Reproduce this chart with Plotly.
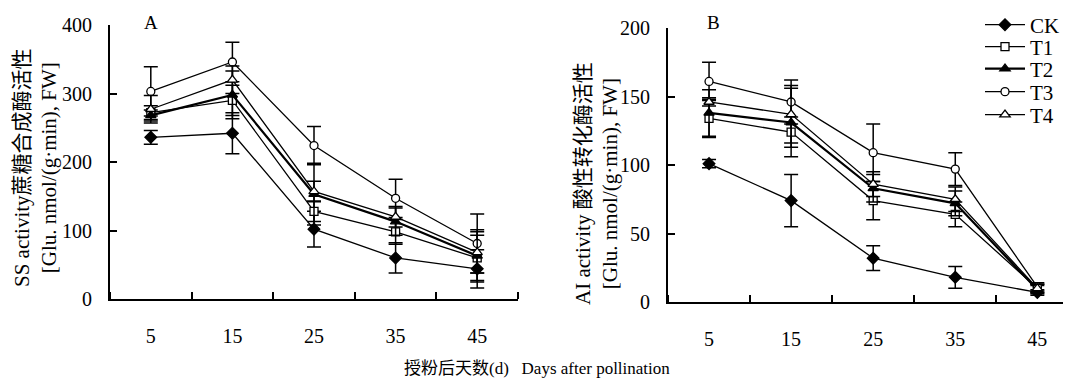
import plotly.graph_objects as go

days = ["5", "15", "25", "35", "45"]
series = ["CK", "T1", "T2", "T3", "T4"]

# Panel A: SS activity
ss_ck = [236, 242, 102, 60, 44]
ss_ck_err = [10, 30, 26, 22, 28]
ss_t1 = [272, 290, 128, 98, 60]
ss_t1_err = [10, 22, 15, 18, 33]
ss_t2 = [268, 298, 153, 113, 63]
ss_t2_err = [8, 35, 45, 20, 38]
ss_t3 = [303, 346, 224, 147, 81]
ss_t3_err = [36, 29, 28, 28, 43]
ss_t4 = [277, 320, 157, 120, 68]
ss_t4_err = [20, 20, 15, 15, 30]

# Panel B: AI activity
ai_ck = [101, 74, 32, 18, 7]
ai_ck_err = [3, 19, 9, 8, 2]
ai_t1 = [134, 124, 74, 64, 10]
ai_t1_err = [14, 11, 14, 9, 3]
ai_t2 = [138, 131, 83, 72, 9]
ai_t2_err = [17, 25, 10, 9, 3]
ai_t3 = [161, 146, 109, 97, 11]
ai_t3_err = [14, 16, 21, 12, 3]
ai_t4 = [146, 137, 86, 75, 10]
ai_t4_err = [3, 21, 9, 9, 3]

# The page body has an 8px margin, so the figure is made 8px smaller
OFF = 8
W, H = 1071 - OFF, 384 - OFF
TOP_PX, BOT_PX = 25, 302          # screen pixel rows of plot area
MT = TOP_PX - OFF
MB = H - (BOT_PX - OFF)
PH = H - MT - MB


def px(x):
    return (x - OFF) / W


def py(y):
    return ((BOT_PX - OFF) - (y - OFF)) / PH


FONT = "Liberation Serif, Times New Roman, Noto Sans CJK SC, serif"

styles = {
    "CK": dict(symbol="diamond", color="black", size=9, lw=1.3),
    "T1": dict(symbol="square", color="white", size=8, lw=1.3),
    "T2": dict(symbol="triangle-up", color="black", size=9, lw=2.2),
    "T3": dict(symbol="circle", color="white", size=8, lw=1.3),
    "T4": dict(symbol="triangle-up", color="white", size=9, lw=1.3),
}
legend_ids = ["legend", "legend2", "legend3", "legend4", "legend5"]
legend_rows = [25, 47, 69, 92, 115]   # screen rows of legend entries

xs = list(range(len(days)))
panel_a = [(ss_ck, ss_ck_err), (ss_t1, ss_t1_err), (ss_t2, ss_t2_err),
           (ss_t3, ss_t3_err), (ss_t4, ss_t4_err)]
panel_b = [(ai_ck, ai_ck_err), (ai_t1, ai_t1_err), (ai_t2, ai_t2_err),
           (ai_t3, ai_t3_err), (ai_t4, ai_t4_err)]

fig = go.Figure()
for panel, (xa, ya, show) in zip([panel_a, panel_b], [("x", "y", False), ("x2", "y2", True)]):
    for i, (name, (vals, errs)) in enumerate(zip(series, panel)):
        st = styles[name]
        fig.add_trace(go.Scatter(
            x=xs, y=vals, name=name, xaxis=xa, yaxis=ya,
            mode="lines+markers", showlegend=show, legend=legend_ids[i],
            line=dict(color="black", width=st["lw"]),
            marker=dict(symbol=st["symbol"], size=st["size"], color=st["color"],
                        line=dict(color="black", width=1.3)),
            error_y=dict(type="data", array=errs, visible=True, color="black",
                         thickness=1.5, width=7),
        ))

common_x = dict(
    tickvals=xs, ticktext=days, ticks="", showline=True, linecolor="black",
    linewidth=2, showgrid=False, zeroline=False, ticklabelstandoff=18,
    tickfont=dict(family=FONT, size=20, color="black"),
    minor=dict(tick0=-0.5, dtick=1, ticks="inside", ticklen=7,
               tickcolor="black", tickwidth=1.5, showgrid=False),
)
common_y = dict(
    ticks="inside", ticklen=7, tickwidth=1.5, tickcolor="black",
    showline=True, linecolor="black", linewidth=2, showgrid=False,
    zeroline=False, ticklabelstandoff=12,
    tickfont=dict(family=FONT, size=20, color="black"),
)

layout = dict(
    width=W, height=H,
    margin=dict(l=0, r=0, t=MT, b=MB, autoexpand=False),
    paper_bgcolor="white", plot_bgcolor="white",
    xaxis=dict(domain=[px(110), px(518)], range=[-0.5, 4.5], anchor="y", **common_x),
    yaxis=dict(domain=[py(299), 1], range=[0, 400], dtick=100, anchor="x", **common_y),
    xaxis2=dict(domain=[px(668), 1], range=[-0.5, 4.41], anchor="y2", **common_x),
    yaxis2=dict(domain=[0, py(28)], range=[0, 200], dtick=50, anchor="x2", **common_y),
    showlegend=True,
)
for lid, row in zip(legend_ids, legend_rows):
    layout[lid] = dict(x=px(980), y=py(row), xanchor="left", yanchor="middle",
                       font=dict(family=FONT, size=21, color="black"),
                       itemwidth=40, bgcolor="rgba(0,0,0,0)")
fig.update_layout(**layout)

annos = [
    dict(text="A", x=px(151), y=py(22), font=dict(family=FONT, size=19)),
    dict(text="B", x=px(713), y=py(22), font=dict(family=FONT, size=19)),
    dict(text="SS activity蔗糖合成酶活性<br>[Glu. nmol/(g·min), FW]",
         x=px(35), y=py(168), textangle=-90, font=dict(family=FONT, size=21)),
    dict(text="AI activity 酸性转化酶活性<br>[Glu. nmol/(g·min), FW]",
         x=px(597), y=py(184), textangle=-90, font=dict(family=FONT, size=21)),
    dict(text="授粉后天数(d)   Days after pollination",
         x=px(537), y=py(368), font=dict(family=FONT, size=17)),
]
for a in annos:
    a.update(xref="paper", yref="paper", showarrow=False,
             xanchor="center", yanchor="middle")
    a["font"]["color"] = "black"
    fig.add_annotation(**a)

fig.write_html("out.html")
